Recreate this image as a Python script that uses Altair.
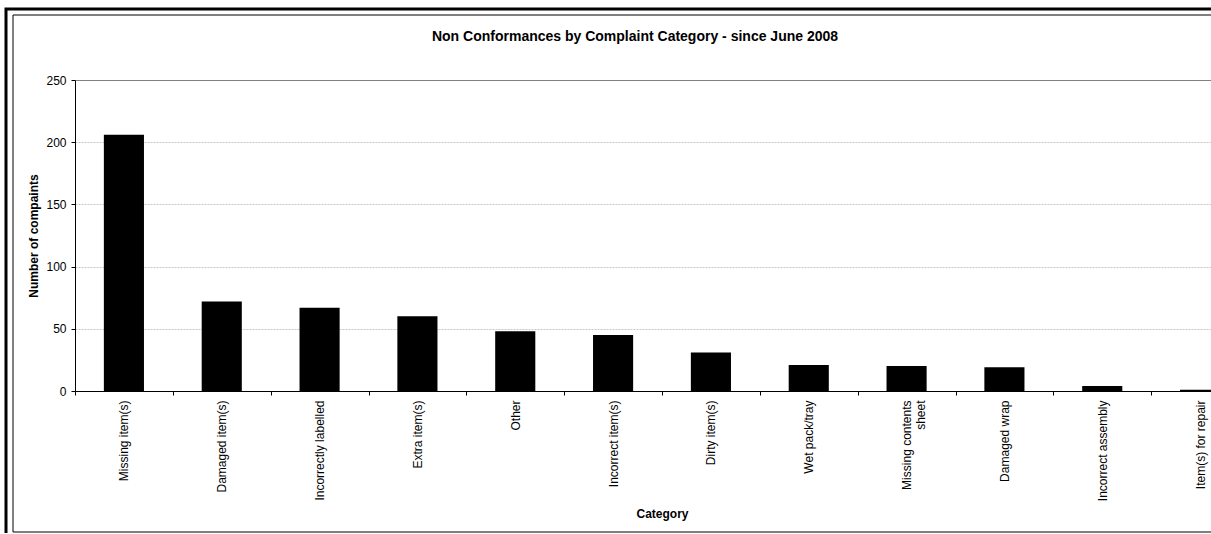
import altair as alt
import pandas as pd

categories = ["Missing item(s)", "Damaged item(s)", "Incorrectly labelled", "Extra item(s)", "Other",
              "Incorrect item(s)", "Dirty item(s)", "Wet pack/tray", "Missing contents sheet",
              "Damaged wrap", "Incorrect assembly", "Item(s) for repair"]
counts = [206, 72, 67, 60, 48, 45, 31, 21, 20, 19, 4, 1]
y_ticks = [0, 50, 100, 150, 200, 250]
chart_title = "Non Conformances by Complaint Category - since June 2008"

df = pd.DataFrame({"Category": categories, "Count": counts})
one = pd.DataFrame({"k": [0]})

FONT = "Liberation Sans"

bars = alt.Chart(df).mark_bar(color="black", width=alt.RelativeBandSize(0.41)).encode(
    x=alt.X("Category:N", sort=categories,
            scale=alt.Scale(range=[0, 1174], paddingInner=0, paddingOuter=0),
            axis=alt.Axis(title="Category", labelAngle=-90, tickBand="extent",
                          labelFont=FONT, labelFontSize=12, labelColor="black",
                          labelPadding=5, tickSize=4, tickColor="black", domainColor="black",
                          titleFont=FONT, titleFontSize=12, titleFontWeight="bold", titleColor="black",
                          titleY=122, titleBaseline="middle",
                          labelExpr="datum.label == 'Missing contents sheet' ? ['Missing contents', 'sheet'] : datum.label",
                          grid=False)),
    y=alt.Y("Count:Q", scale=alt.Scale(domain=[0, 250], nice=False),
            axis=alt.Axis(values=y_ticks, title="Number of compaints",
                          labelFont=FONT, labelFontSize=12, labelColor="black",
                          labelPadding=5, tickSize=4, tickColor="black", domainColor="black",
                          titleFont=FONT, titleFontSize=12, titleFontWeight="bold", titleColor="black",
                          titleX=-42, titleBaseline="middle",
                          grid=True,
                          gridColor=alt.condition("datum.value === 250", alt.value("#808080"), alt.value("#c8c8c8")),
                          gridDash=alt.condition("datum.value === 250", alt.value([]), alt.value([2, 1])),
                          gridWidth=1)),
)

outer = alt.Chart(one).mark_rect(fillOpacity=0, stroke="black", strokeWidth=3).encode(
    x=alt.value(-69), x2=alt.value(1300), y=alt.value(-71), y2=alt.value(600)
)
inner = alt.Chart(one).mark_rect(fillOpacity=0, stroke="black", strokeWidth=1).encode(
    x=alt.value(-62), x2=alt.value(1300), y=alt.value(-65), y2=alt.value(452)
)
title = alt.Chart(one).mark_text(font=FONT, fontSize=14, fontWeight="bold", color="black",
                                 align="center", baseline="middle").encode(
    x=alt.value(560), y=alt.value(-43), text=alt.value(chart_title)
)

chart = alt.layer(outer, inner, title, bars).properties(
    width=1136, height=311,
    padding={"left": 75, "top": 80, "right": 0, "bottom": 142},
    autosize=alt.AutoSizeParams(type="none"),
    background="white",
).configure_view(stroke=None)

chart.save("out.html", embed_options={"renderer": "svg", "actions": False})
